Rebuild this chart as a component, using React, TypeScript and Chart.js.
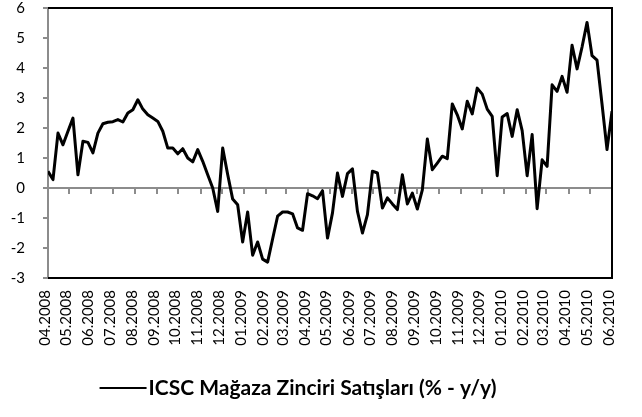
import { useEffect, useRef } from "react";
import { Chart, registerables } from "chart.js";

Chart.register(...registerables);

// First weekly observation (week ending Saturday)
const firstWeek = "2008-04-05";

// Month tick labels on the x axis
const monthLabels = [
  "04.2008", "05.2008", "06.2008", "07.2008", "08.2008", "09.2008", "10.2008",
  "11.2008", "12.2008", "01.2009", "02.2009", "03.2009", "04.2009", "05.2009",
  "06.2009", "07.2009", "08.2009", "09.2009", "10.2009", "11.2009", "12.2009",
  "01.2010", "02.2010", "03.2010", "04.2010", "05.2010", "06.2010",
];

// Weekly ICSC chain store sales, % y/y
const salesYoY = [
  0.56, 0.28, 1.83, 1.44, 1.89, 2.33, 0.44, 1.56, 1.52, 1.17,
  1.83, 2.14, 2.19, 2.21, 2.28, 2.2, 2.5, 2.61, 2.94, 2.63,
  2.44, 2.33, 2.22, 1.89, 1.33, 1.33, 1.14, 1.31, 1.0, 0.87,
  1.28, 0.89, 0.44, 0.0, -0.78, 1.33, 0.45, -0.37, -0.56, -1.8,
  -0.8, -2.24, -1.8, -2.37, -2.47, -1.7, -0.94, -0.8, -0.8, -0.86,
  -1.33, -1.41, -0.19, -0.26, -0.36, -0.09, -1.67, -0.83, 0.5, -0.28,
  0.48, 0.64, -0.78, -1.5, -0.89, 0.56, 0.5, -0.67, -0.33, -0.53,
  -0.72, 0.44, -0.53, -0.17, -0.7, -0.06, 1.63, 0.61, 0.83, 1.06,
  0.98, 2.8, 2.44, 1.97, 2.89, 2.47, 3.33, 3.13, 2.63, 2.39,
  0.41, 2.37, 2.48, 1.72, 2.61, 1.91, 0.41, 1.78, -0.69, 0.94,
  0.72, 3.44, 3.22, 3.72, 3.19, 4.76, 3.97, 4.7, 5.52, 4.41,
  4.26, 2.8, 1.28, 2.56,
];

const seriesLabel = "ICSC Mağaza Zinciri Satışları (% - y/y)";
const yMin = -3;
const yMax = 6;

export default function App() {
  const ref = useRef<HTMLCanvasElement>(null);

  useEffect(() => {
    if (!ref.current) return;
    const DAY = 86400000;
    const start = Date.parse(firstWeek + "T00:00:00Z");
    const startDay = new Date(start).getUTCDate();
    const monthDays = monthLabels.map((l) => {
      const [m, y] = l.split(".").map(Number);
      return Math.round((Date.UTC(y, m - 1, startDay) - start) / DAY);
    });
    const xMax = monthDays[monthDays.length - 1];
    const points = salesYoY.map((v, i) => ({ x: i * 7, y: v }));
    const GRAY = "#8c8c8c";

    // Horizontal axis crossing at zero, with month tick marks
    const zeroAxis = {
      id: "zeroAxis",
      beforeDatasetsDraw(c: any) {
        const { left, right } = c.chartArea;
        const ctx = c.ctx;
        const xs = c.scales.x;
        const y0 = Math.round(c.scales.y.getPixelForValue(0));
        ctx.save();
        ctx.strokeStyle = GRAY;
        ctx.lineWidth = 2;
        ctx.beginPath();
        ctx.moveTo(left, y0);
        ctx.lineTo(right, y0);
        monthDays.forEach((d) => {
          const px = Math.round(xs.getPixelForValue(d));
          ctx.moveTo(px, y0);
          ctx.lineTo(px, y0 + 6);
        });
        ctx.stroke();
        ctx.restore();
      },
    };

    // Plot-area border (top, right, bottom)
    const plotFrame = {
      id: "plotFrame",
      afterDraw(c: any) {
        const { left, top, right, bottom } = c.chartArea;
        const ctx = c.ctx;
        ctx.save();
        ctx.strokeStyle = "#000";
        ctx.lineWidth = 2;
        ctx.beginPath();
        ctx.moveTo(left, top);
        ctx.lineTo(right, top);
        ctx.lineTo(right, bottom);
        ctx.lineTo(left, bottom);
        ctx.stroke();
        ctx.restore();
      },
    };

    // Legend: line sample + bold series name
    const lineLegend = {
      id: "lineLegend",
      afterDraw(c: any) {
        const ctx = c.ctx;
        const label = c.data.datasets[0].label;
        ctx.save();
        ctx.font = "bold 21px Lato";
        const tw = ctx.measureText(label).width;
        const lineW = 47;
        const gap = 2;
        const total = lineW + gap + tw;
        const cx = 298;
        const y = 388;
        const x0 = cx - total / 2;
        ctx.strokeStyle = "#000";
        ctx.lineWidth = 2;
        ctx.beginPath();
        ctx.moveTo(x0, y);
        ctx.lineTo(x0 + lineW, y);
        ctx.stroke();
        ctx.fillStyle = "#000";
        ctx.textBaseline = "middle";
        ctx.textAlign = "left";
        ctx.fillText(label, x0 + lineW + gap, y);
        ctx.restore();
      },
    };

    const chart = new Chart(ref.current, {
      type: "line",
      data: {
        datasets: [
          {
            label: seriesLabel,
            data: points,
            borderColor: "#000",
            backgroundColor: "#000",
            borderWidth: 3,
            pointRadius: 0,
            tension: 0,
            fill: false,
            borderJoinStyle: "round",
          },
        ],
      },
      options: {
        animation: false,
        responsive: false,
        maintainAspectRatio: false,
        layout: { padding: { top: 8, right: 28, left: 0, bottom: 0 } },
        plugins: { legend: { display: false }, tooltip: { enabled: false } },
        scales: {
          x: {
            type: "linear",
            position: "bottom",
            min: 0,
            max: xMax,
            afterBuildTicks: (s: any) => {
              s.ticks = monthDays.map((v) => ({ value: v }));
            },
            afterFit: (s: any) => {
              s.height = 139;
            },
            grid: { display: false, drawTicks: false },
            border: { display: false },
            ticks: {
              autoSkip: false,
              maxRotation: 90,
              minRotation: 90,
              padding: 12,
              labelOffset: -3,
              color: "#000",
              font: { family: "Lato", size: 15 },
              callback: (_v: any, i: number) => monthLabels[i],
            },
          },
          y: {
            min: yMin,
            max: yMax,
            afterFit: (s: any) => {
              s.width = 48;
              s.paddingTop = 0;
              s.paddingBottom = 0;
            },
            ticks: {
              stepSize: 1,
              padding: 18,
              color: "#000",
              font: { family: "Lato", size: 15, lineHeight: 1 },
            },
            grid: {
              drawOnChartArea: false,
              drawTicks: true,
              tickLength: 5,
              color: GRAY,
              lineWidth: 2,
            },
            border: { color: GRAY, width: 2 },
          },
        },
      },
      plugins: [zeroAxis, plotFrame, lineLegend],
    } as any);
    return () => chart.destroy();
  }, []);

  return (
    <div style={{ position: "absolute", left: 0, top: 0, width: 642, height: 417 }}>
      <canvas ref={ref} width={642} height={417} style={{ display: "block" }} />
    </div>
  );
}
